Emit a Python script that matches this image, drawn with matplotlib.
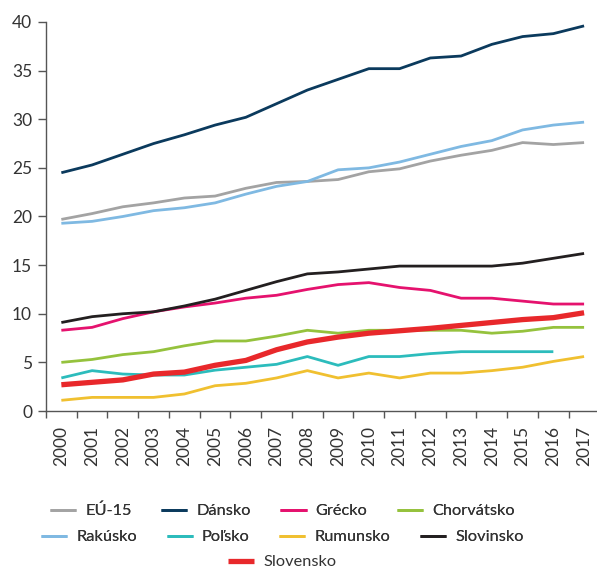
import numpy as np
import matplotlib.pyplot as plt

plt.rcParams['font.family'] = ['Lato', 'DejaVu Sans']

years = [str(y) for y in range(2000, 2018)]

eu15 = [19.7, 20.3, 21.0, 21.4, 21.9, 22.1, 22.9, 23.5, 23.6, 23.8, 24.6, 24.9, 25.7, 26.3, 26.8, 27.6, 27.4, 27.6]
dansko = [24.5, 25.3, 26.4, 27.5, 28.4, 29.4, 30.2, 31.6, 33.0, 34.1, 35.2, 35.2, 36.3, 36.5, 37.7, 38.5, 38.8, 39.6]
grecko = [8.3, 8.6, 9.5, 10.2, 10.7, 11.1, 11.6, 11.9, 12.5, 13.0, 13.2, 12.7, 12.4, 11.6, 11.6, 11.3, 11.0, 11.0]
chorvatsko = [5.0, 5.3, 5.8, 6.1, 6.7, 7.2, 7.2, 7.7, 8.3, 8.0, 8.3, 8.3, 8.3, 8.3, 8.0, 8.2, 8.6, 8.6]
rakusko = [19.3, 19.5, 20.0, 20.6, 20.9, 21.4, 22.3, 23.1, 23.6, 24.8, 25.0, 25.6, 26.4, 27.2, 27.8, 28.9, 29.4, 29.7]
polsko = [3.4, 4.15, 3.8, 3.7, 3.7, 4.2, 4.5, 4.8, 5.6, 4.7, 5.6, 5.6, 5.9, 6.1, 6.1, 6.1, 6.1, np.nan]
rumunsko = [1.1, 1.4, 1.4, 1.4, 1.75, 2.6, 2.85, 3.4, 4.15, 3.4, 3.9, 3.4, 3.9, 3.9, 4.15, 4.5, 5.1, 5.6]
slovinsko = [9.1, 9.7, 10.0, 10.2, 10.8, 11.5, 12.4, 13.3, 14.1, 14.3, 14.6, 14.9, 14.9, 14.9, 14.9, 15.2, 15.7, 16.2]
slovensko = [2.7, 2.95, 3.2, 3.8, 4.0, 4.7, 5.2, 6.3, 7.1, 7.6, 8.0, 8.25, 8.5, 8.8, 9.1, 9.4, 9.6, 10.1]

series = [
    ('EÚ-15', eu15, '#a3a3a3', 2.0),
    ('Dánsko', dansko, '#0b3a5d', 2.0),
    ('Grécko', grecko, '#e5126e', 2.0),
    ('Chorvátsko', chorvatsko, '#95c23d', 2.0),
    ('Rakúsko', rakusko, '#7fb9e2', 2.0),
    ('Poľsko', polsko, '#2cbcbc', 2.0),
    ('Rumunsko', rumunsko, '#f0c030', 2.0),
    ('Slovinsko', slovinsko, '#231f20', 2.0),
    ('Slovensko', slovensko, '#e8282b', 3.8),
]

fig = plt.figure(figsize=(5.97, 5.71), dpi=100)
ax = fig.add_axes([0.077, 0.2802, 0.923, 0.6813])

x = np.arange(len(years))
handles = []
for name, vals, color, lw in series[:-1]:
    h, = ax.plot(x, vals, color=color, lw=lw, label=name, solid_capstyle='butt')
    handles.append(h)
name, vals, color, lw = series[-1]
h_sk, = ax.plot(x, vals, color=color, lw=lw, label=name, solid_capstyle='butt', zorder=5)

ax.set_xlim(-0.5, 17.42)
ax.set_ylim(0, 40)
ax.set_yticks(range(0, 41, 5))
ax.set_xticks(x)
ax.set_xticklabels(years, rotation=90)
ax.set_xticks(np.arange(-0.5, 17.5, 1), minor=True)
ax.tick_params(axis='x', which='major', length=0, pad=11, labelsize=12.5, labelcolor='#333333')
ax.tick_params(axis='x', which='minor', length=5, width=1, color='#555555', direction='out')
ax.tick_params(axis='y', length=6, width=1, color='#555555', pad=4, labelsize=12.5, labelcolor='#333333')

for s in ['top', 'right']:
    ax.spines[s].set_visible(False)
for s in ['left', 'bottom']:
    ax.spines[s].set_color('#555555')
    ax.spines[s].set_linewidth(1)

leg_kw = dict(frameon=False, fontsize=11.8, handlelength=1.6, handletextpad=0.55,
              columnspacing=1.8, labelcolor='#333333', loc='center')
leg1 = fig.legend(handles[:4], [h.get_label() for h in handles[:4]], ncol=4,
                  bbox_to_anchor=(0.473, 1 - 511 / 571), **leg_kw)
leg2 = fig.legend(handles[4:], [h.get_label() for h in handles[4:]], ncol=4,
                  bbox_to_anchor=(0.473, 1 - 537 / 571), **leg_kw)
fig.add_artist(leg1)
fig.add_artist(leg2)
fig.legend([h_sk], ['Slovensko'], ncol=1, bbox_to_anchor=(0.473, 1 - 562 / 571), **leg_kw)

fig.savefig('out.png', dpi=100)
